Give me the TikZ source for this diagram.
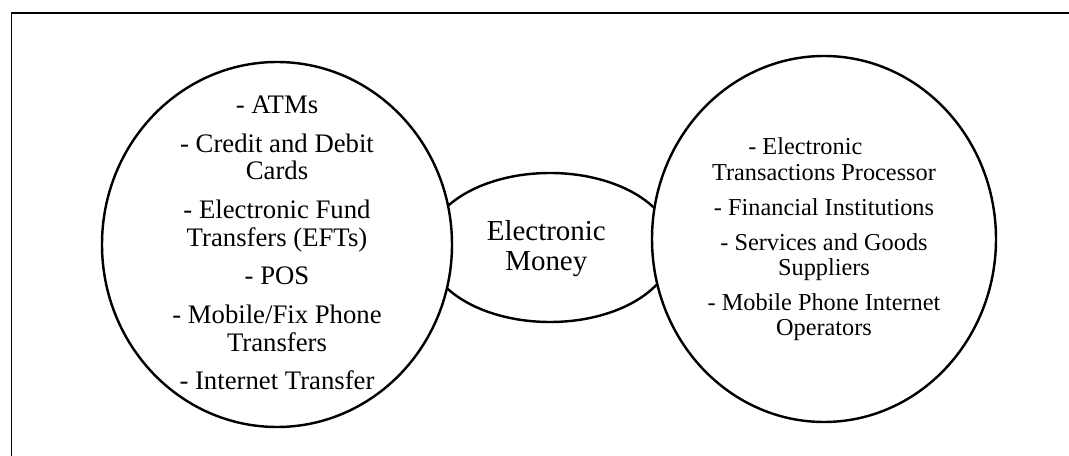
\documentclass[tikz,border=0pt]{standalone}
\usepackage{fontspec}
\setmainfont{Liberation Serif}
\begin{document}
\begin{tikzpicture}[
  x={(0.4115pt,0)}, y={(0,-0.4115pt)},
  frame/.style={line width=0.8pt, line cap=rect},
  blob/.style={draw, fill=white, line width=1pt},
  lefttxt/.style={inner sep=0pt, anchor=base, font=\fontsize{11}{11.25}\selectfont},
  midtxt/.style={inner sep=0pt, anchor=base, font=\fontsize{11.9}{12.3}\selectfont},
  righttxt/.style={inner sep=0pt, anchor=base, font=\fontsize{10}{10.4}\selectfont}
]
\useasboundingbox (0,0) rectangle (1069,456);

% outer frame (top and left edges run off the page)
\coordinate (frameTL) at (11.5,13.3);
\coordinate (frameTR) at (1075,13.3);
\coordinate (frameBL) at (11.5,462);
\draw[frame] (frameBL) -- (frameTL) -- (frameTR);

% central ellipse, partly hidden by the two circles
\draw[blob] (550,247.5) ellipse [x radius=123, y radius=74.5];

% the two large circles
\draw[blob] (277,244.5) ellipse [x radius=175, y radius=182.5];
\draw[blob] (824,239) ellipse [x radius=172, y radius=183];

% centre label
\node[midtxt] (m1) at (546.3,240.7) {Electronic};
\node[midtxt] (m2) at (546.3,270.7) {Money};

% left circle: instruments
\node[lefttxt] (l1) at (277,113.3) {- ATMs};
\node[lefttxt] (l2) at (277,152.7) {- Credit and Debit};
\node[lefttxt] (l3) at (277,180)   {Cards};
\node[lefttxt] (l4) at (277,218.3) {- Electronic Fund};
\node[lefttxt] (l5) at (277,246.7) {Transfers (EFTs)};
\node[lefttxt] (l6) at (277,285)   {- POS};
\node[lefttxt] (l7) at (277,324)   {- Mobile/Fix Phone};
\node[lefttxt] (l8) at (277,351.7) {Transfers};
\node[lefttxt] (l9) at (277,390)   {- Internet Transfer};

% right circle: participants
\node[righttxt] (r1) at (805.3,155) {- Electronic};
\node[righttxt] (r2) at (824,181)   {Transactions Processor};
\node[righttxt] (r3) at (824,215.7) {- Financial Institutions};
\node[righttxt] (r4) at (824,250.7) {- Services and Goods};
\node[righttxt] (r5) at (824,275.7) {Suppliers};
\node[righttxt] (r6) at (824,310.7) {- Mobile Phone Internet};
\node[righttxt] (r7) at (824,336)   {Operators};
\end{tikzpicture}
\end{document}
